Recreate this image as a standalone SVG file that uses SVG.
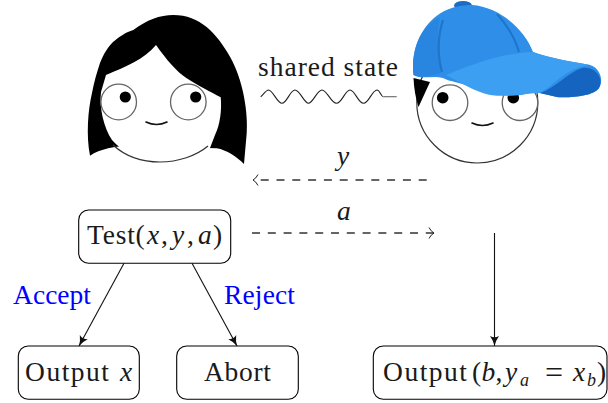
<svg xmlns="http://www.w3.org/2000/svg" width="608" height="403" viewBox="0 0 608 403">
<defs>
<style>
text{font-family:"Liberation Serif","Times New Roman",serif;font-size:27.5px;fill:#1a1a1a}
.i{font-style:italic}
.s{font-size:18px}
.eq{font-size:32px}
.b{fill:#0000ff}
.box{fill:#fff;stroke:#000;stroke-width:1.1}
.eye{fill:#fff;stroke:#666;stroke-width:1.3}
.head{fill:#fff;stroke:#333;stroke-width:1.2}
.mouth{fill:none;stroke:#111;stroke-width:1.6;stroke-linecap:round}
.arrow{fill:none;stroke:#111;stroke-width:1.1}
.dash{fill:none;stroke:#333;stroke-width:1.5;stroke-dasharray:8 7.8}
</style>
<marker id="solid" markerWidth="12" markerHeight="12" refX="10" refY="5" orient="auto" markerUnits="userSpaceOnUse"><path d="M0,0.5 Q5,4 10,5 Q5,6 0,9.5 Q2.5,5 0,0.5Z" fill="#111"/></marker>
<marker id="open" markerWidth="12" markerHeight="14" refX="6.5" refY="6" orient="auto" markerUnits="userSpaceOnUse"><path d="M1.5,0.5 Q3.5,4.5 6.5,6 Q3.5,7.5 1.5,11.5" fill="none" stroke="#222" stroke-width="1"/></marker>
</defs>

<g id="alice">
<path fill="#000" d="M90,155.700 C86,135 88,110 92,93 C94,82 97,72 100,63 C104,53 108,47 113,42 C119,37 126,32 133.300,30 C146.700,20 160,15 173.300,15 C200,15 216.700,33.300 230,56.700 C243.300,80 248.300,113.300 246.700,133.300 L244,164 C236.700,156.700 226.700,150 216.700,148.300 L130,146 C115,146 100,149 90,155.700Z"/>
<path fill="#fff" d="M106,75 C126.700,66 143.300,60 156,45 C166.700,60 176.700,71.700 186.700,78.300 C200,86.700 210,91.700 220.700,97.300 C222,110 220,125 215,135 L210,148 C195,160 175,163 160,162 C140,161 122,152 112,140 C104,128 99,108 101,92Z"/>
<path fill="none" stroke="#333" stroke-width="1.2" d="M113,145 C125,156 142,162 160,162 C178,162 196,156 208,146"/>
<circle class="eye" cx="118.700" cy="102" r="17.800"/>
<circle class="eye" cx="188.300" cy="102" r="17.800"/>
<circle cx="125.300" cy="97" r="5.600" fill="#000"/>
<circle cx="195.700" cy="97" r="5.600" fill="#000"/>
<path class="mouth" d="M146,122 Q156.500,127 167,122"/>
</g>

<g id="bob">
<circle class="head" cx="477.300" cy="102.500" r="60.500"/>
<path fill="#000" d="M413.500,78 L430,82 L418.500,107 C415.500,98 414,88 413.500,78Z"/>
<circle class="eye" cx="450" cy="102.700" r="17.800"/>
<circle class="eye" cx="520" cy="102.700" r="17.800"/>
<circle cx="442.700" cy="97.700" r="5.800" fill="#000"/>
<circle cx="513.300" cy="97.700" r="5.800" fill="#000"/>
<path class="mouth" d="M472,123 Q482.500,128 493,123"/>
<ellipse cx="463" cy="5.500" rx="9" ry="4.500" fill="#1a6cc4"/>
<path fill="#2f8fe8" d="M413.500,75 C411,50 420,27 440,13.500 C450,7 462,5 472,5 C500,7 525,30 533,52 C550,58 573,62 590,65 C600,68 604,80 599,88 C593,97 567,98 557,97 C543,94 540,92 530,93 C513,98 490,95 473,88 C460,82 450,82 443,78 C433,75 423,80 413.500,75Z"/>
<path fill="#2886e0" d="M413.500,75 C411,50 420,27 440,17 C436,35 438,55 441,73 C433,75 423,79 413.500,75Z"/>
<path fill="#3d9ff2" d="M446,75 C465,67 490,58 507,55 C517,54 525,52 533,52 C550,58 573,62 590,65 C565,68 555,85 540,93 C530,92 513,98 490,95 C475,92 460,82 446,75Z"/>
<path fill="#1565c0" d="M540,93 C557,87 567,73 582,68 C597,66 604,80 599,88 C593,97 567,98 557,97 C551,96 545,94 540,93Z"/>
<path fill="none" stroke="#1f74cc" stroke-width="2.200" d="M443,20 C438,35 437,55 442,72 M497,14 C507,25 515,38 519,52"/>
</g>

<g id="test"><rect class="box" x="78.700" y="210" width="152" height="53.300" rx="10"/>
<text x="87" y="244" textLength="48">Test</text><text x="135.500" y="244">(</text><text class="i" x="147" y="244">x</text><text x="161" y="244">,</text><text class="i" x="172" y="244">y</text><text x="187" y="244">,</text><text class="i" x="198" y="244">a</text><text x="213" y="244">)</text></g>

<g id="output-x"><rect class="box" x="18.300" y="346" width="121" height="53.300" rx="10"/>
<text x="25" y="381" textLength="84">Output</text><text class="i" x="120" y="381">x</text></g>

<g id="abort"><rect class="box" x="176.700" y="346" width="121.600" height="53.300" rx="10"/>
<text x="204" y="381" textLength="67">Abort</text></g>

<g id="output-b"><rect class="box" x="373.300" y="346" width="233.700" height="53.300" rx="10"/>
<text x="383" y="381" textLength="84">Output</text><text x="472" y="381">(</text><text class="i" x="481.500" y="381">b</text><text x="495.500" y="381">,</text><text class="i" x="505" y="381">y</text><text class="i s" x="520" y="386">a</text><text class="eq" x="545" y="383">=</text><text class="i" x="573" y="381">x</text><text class="i s" x="587" y="386">b</text><text x="597" y="381">)</text></g>

<g id="connectors">
<path class="arrow" marker-end="url(#solid)" d="M124,263.300 L79,346"/>
<path class="arrow" marker-end="url(#solid)" d="M192,263.300 L237,346"/>
<path class="arrow" marker-end="url(#solid)" d="M494.500,233 L494.500,346"/>
<path class="dash" marker-end="url(#open)" d="M426.700,180 L253,180"/>
<path class="dash" marker-end="url(#open)" d="M252,233 L434,233"/>
<path fill="none" stroke="#222" stroke-width="1.100" d="M260.700,96.700 C264,94 266,90 268.500,90 C273,90 277,103.300 282,103.300 C287,103.300 290,90 295,90 C300,90 304,103.300 308.500,103.300 C313,103.300 317,90 322,90 C327,90 331,103.300 336.500,103.300 C342,103.300 345,90 350,90 C355,90 358,103.300 363.500,103.300 C369,103.300 372,90 377,90 C380,90 381,96.700 383.300,96.700"/>
<path fill="none" stroke="#666" stroke-width="1.100" d="M383.300,96.700 L396.700,96.700"/>
</g>

<g id="labels">
<text x="258" y="76" textLength="140">shared state</text>
<text class="i" x="337" y="165">y</text>
<text class="i" x="337" y="220">a</text>
<text class="b" x="13" y="304" textLength="78">Accept</text>
<text class="b" x="224" y="304" textLength="71">Reject</text>
</g>
</svg>
